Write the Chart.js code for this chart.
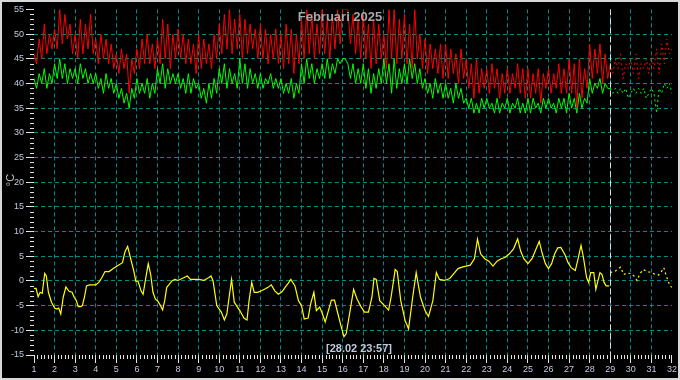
<!DOCTYPE html>
<html><head><meta charset="utf-8">
<script src="https://cdn.jsdelivr.net/npm/chart.js@4.4.1/dist/chart.umd.min.js"></script>
<style>
html,body{margin:0;padding:0;background:#000;}
#wrap{width:680px;height:380px;box-sizing:border-box;border:2px solid #d8d8d8;background:#000;}
canvas{display:block;}
</style></head><body>
<div id="wrap"><canvas id="c" width="676" height="376"></canvas></div>
<script>
const chartTitle = 'Februari 2025';
const stampLabel = '[28.02 23:57]';
const unitLabel = '°C';
const dayLabels = ['1','2','3','4','5','6','7','8','9','10','11','12','13','14','15','16','17','18','19','20','21','22','23','24','25','26','27','28','29','30','31','32'];
const yTickLabels = ['-15','-10','-5','0','5','10','15','20','25','30','35','40','45','50','55'];

// red / green: 8 readings per day (every 3 h) from day 1 to day 29
const redStart = 1, redStep = 0.125;
const redTemps = [
 46,44,49,45,52,46,50,47,
 51,47,55,48,54,49,52,46,
 50,45,53,46,52,47,54,46,
 49,44,50,45,49,44,48,43,
 46,42,47,43,46,38,45,42,
 47,43,49,44,50,44,48,43,
 49,44,53,45,52,43,50,45,
 51,45,50,44,49,44,48,42,
 50,43,49,44,48,43,50,45,
 52,46,54,47,55,46,53,47,
 54,45,53,46,52,47,51,45,
 52,45,51,44,50,45,51,44,
 50,43,52,44,51,42,50,44,
 53,45,55,46,54,45,52,46,
 55,46,53,45,54,47,55,48,
 55,55,55,48,54,46,53,45,
 54,45,52,43,53,44,52,45,
 50,43,55,45,55,44,53,45,
 54,44,52,43,55,45,50,43,
 49,42,48,43,47,42,48,41,
 48,41,47,42,46,40,47,41,
 45,39,44,37,45,38,43,39,
 43,38,44,39,43,37,42,38,
 43,38,42,39,44,38,43,37,
 43,37,42,38,43,36,42,39,
 43,38,42,39,44,38,43,38,
 45,38,44,35,45,37,43,39,
 48,41,47,42,48,40,46,41,
 44];
const greenTemps = [
 41,39,42,40,43,39,42,40,
 44,41,45,41,44,40,43,41,
 43,40,44,41,43,40,42,40,
 42,39,41,38,42,39,41,38,
 40,37,39,36,38,35,39,37,
 41,38,40,38,41,37,40,38,
 43,40,44,39,43,40,42,40,
 42,39,41,38,42,38,41,39,
 40,37,39,36,40,37,41,38,
 43,40,44,39,43,40,42,39,
 45,40,44,39,43,40,42,39,
 42,39,41,40,42,39,41,39,
 41,38,40,38,41,37,40,38,
 44,40,45,41,44,40,43,41,
 44,41,45,41,44,42,45,44,
 45,45,44,41,44,40,43,40,
 44,39,43,38,42,39,43,40,
 45,40,44,38,45,39,43,40,
 44,40,45,41,44,40,43,39,
 41,38,40,37,41,38,40,37,
 40,37,39,36,40,37,39,36,
 37,35,37,34,36,34,37,35,
 37,35,36,34,37,34,36,35,
 37,34,36,35,37,34,36,34,
 37,34,37,35,36,34,37,35,
 37,35,36,34,37,35,37,34,
 38,35,37,34,38,35,37,36,
 41,38,40,39,41,38,40,39,
 39];
// dotted part, day 29 to 32
const dotStart = 29, dotStep = 0.125;
const redDotTemps = [44,42,45,43,46,41,44,43, 45,42,46,41,44,43,45,42, 46,43,47,42,48,44,49,46,47];
const greenDotTemps = [39,38,39,38,39,38,39,37, 38,39,38,39,38,39,37,38, 39,38,34,39,38,40,39,40,38];

// yellow: day, value
const yellowDays = [1.0,1.1,1.2,1.3,1.4,1.52,1.6,1.7,1.85,2.0,2.1,2.2,2.3,2.42,2.55,2.7,2.85,2.95,3.05,3.15,3.27,3.35,3.45,3.55,3.7,4.0,4.15,4.3,4.45,4.65,4.85,5.1,5.3,5.42,5.55,5.68,5.85,5.95,6.05,6.2,6.3,6.42,6.55,6.67,6.78,6.9,7.0,7.12,7.25,7.35,7.45,7.55,7.7,7.85,8.0,8.3,8.45,8.6,8.9,9.0,9.25,9.5,9.6,9.7,9.88,10.1,10.25,10.37,10.48,10.6,10.73,11.0,11.2,11.35,11.45,11.58,11.7,11.87,12.05,12.2,12.37,12.53,12.7,12.87,13.05,13.2,13.35,13.48,13.68,13.85,14.0,14.13,14.32,14.45,14.6,14.72,14.88,15.0,15.15,15.32,15.45,15.6,15.77,15.93,16.06,16.17,16.28,16.4,16.53,16.7,16.9,17.06,17.25,17.42,17.52,17.63,17.8,18.03,18.23,18.35,18.55,18.65,18.82,19.03,19.2,19.4,19.57,19.78,20.0,20.17,20.38,20.55,20.7,20.95,21.2,21.4,21.6,21.8,22.0,22.2,22.4,22.55,22.7,22.9,23.1,23.3,23.5,23.7,23.9,24.1,24.3,24.5,24.65,24.8,25.0,25.2,25.4,25.55,25.7,25.85,26.0,26.15,26.3,26.45,26.6,26.8,26.95,27.1,27.3,27.45,27.58,27.7,27.85,27.95,28.05,28.2,28.3,28.4,28.5,28.6,28.7,28.8,28.95];
const yellowTemps = [-1.5,-1.5,-3.2,-2.3,-2.5,1.5,1.0,-2.3,-4.3,-5.5,-5.7,-5.5,-6.7,-3.3,-1.2,-2.1,-2.3,-3.3,-3.9,-5.2,-5.2,-5.0,-3.3,-1.0,-0.8,-0.8,-0.3,0.7,1.9,1.9,2.5,3.2,3.7,5.9,7.0,4.8,2.0,-0.1,0,-2.0,-2.7,0.3,3.5,1.3,-2.3,-3.7,-4.0,-4.8,-5.9,-4.0,-1.3,-0.8,0,0.3,0.1,0.7,1.0,0.3,0.3,0.3,0.1,0.7,1.0,0,-5.0,-6.3,-7.9,-6.7,-3.3,0.3,-4.3,-6.0,-7.5,-7.9,-4.0,-0.3,-2.3,-2.3,-2.0,-1.7,-1.3,-0.8,-2.0,-2.7,-2.2,-1.3,-0.5,0.3,-1.0,-4.0,-5.0,-7.7,-7.5,-4.5,-2.3,-6.0,-5.3,-6.5,-8.3,-5.8,-3.9,-3.9,-6.7,-9.3,-11.3,-10.7,-8.0,-5.0,-1.7,-3.7,-5.3,-6.3,-6.3,-3.3,0.5,0.3,-4.0,-5.0,-5.9,-3.3,2.3,1.9,-4.0,-8.0,-9.7,-3.3,1.7,-3.3,-6.0,-7.2,-4.0,1.7,0.3,0.1,0.5,1.5,2.5,2.8,3.0,3.2,4.5,8.5,5.5,4.5,4.0,3.0,4.0,4.5,4.8,5.5,6.5,8.5,6.0,4.5,3.5,4.5,6.5,8.0,5.5,3.5,2.5,3.5,5.5,6.7,6.8,5.3,3.7,2.7,2.1,4.7,7.2,4.7,0.7,-0.3,1.7,1.7,-1.7,0,1.7,1.3,-0.3,-1.0,-1.0];
const yellowDotDays = [29.0,29.25,29.5,29.65,29.8,30.0,30.15,30.3,30.45,30.6,30.8,31.0,31.2,31.35,31.5,31.6,31.75,31.9,32.0];
const yellowDotTemps = [1.7,2.0,2.8,1.3,1.6,1.5,1.0,0.1,1.5,2.3,1.9,1.7,1.3,1.2,2.0,2.7,0.7,-1.0,-1.3];

const cursorDay = 29;

const seq = (start, step, arr) => arr.map((v, i) => ({x: start + i * step, y: v}));
const pairs = (xs, ys) => xs.map((x, i) => ({x: x, y: ys[i]}));

const labelColor = '#c0cadc';
const gridColor = '#008b8b';
const tickColor = '#e4e4e4';
const fontFam = 'Liberation Sans, Arial, sans-serif';

const overlay = {
  id: 'overlay',
  beforeDatasetsDraw(chart) {
    const {ctx, chartArea: a, scales: {x, y}} = chart;
    ctx.save();
    ctx.strokeStyle = tickColor;
    ctx.lineWidth = 1;
    ctx.beginPath();
    for (let v = -15; v <= 55; v++) {
      if (v % 5 === 0) continue;
      const py = Math.round(y.getPixelForValue(v)) + 0.5;
      ctx.moveTo(a.left - 4, py); ctx.lineTo(a.left, py);
    }
    for (let d = 1; d < 32; d++) {
      for (let k = 1; k < 6; k++) {
        const px = Math.round(x.getPixelForValue(d + k / 6)) + 0.5;
        ctx.moveTo(px, a.bottom); ctx.lineTo(px, a.bottom + 4);
      }
    }
    ctx.stroke();
    ctx.restore();
  },
  afterDatasetsDraw(chart) {
    const {ctx, chartArea: a, scales: {x}} = chart;
    ctx.save();
    const cx = Math.round(x.getPixelForValue(cursorDay)) + 0.5;
    ctx.strokeStyle = '#c8e8e8';
    ctx.setLineDash([6, 3]);
    ctx.beginPath(); ctx.moveTo(cx, a.top); ctx.lineTo(cx, a.bottom); ctx.stroke();
    ctx.setLineDash([]);
    ctx.fillStyle = '#a8a8a8';
    ctx.font = 'bold 13px ' + fontFam;
    ctx.textAlign = 'center'; ctx.textBaseline = 'middle';
    ctx.fillText(chartTitle, 338, 15);
    ctx.fillStyle = labelColor;
    ctx.font = 'bold 11px ' + fontFam;
    ctx.fillText(stampLabel, 357, 347);
    ctx.translate(9, 178);
    ctx.rotate(-Math.PI / 2);
    ctx.font = '11px ' + fontFam;
    ctx.fillStyle = '#c8c8c8';
    ctx.fillText(unitLabel, 0, 0);
    ctx.restore();
  }
};

const edgeless = (ctx) => (ctx.index === 0 || ctx.index === ctx.scale.ticks.length - 1) ? 'rgba(0,0,0,0)' : gridColor;

new Chart(document.getElementById('c'), {
  type: 'line',
  data: {
    datasets: [
      {data: seq(redStart, redStep, redTemps), borderColor: '#ff0000', borderWidth: 1},
      {data: seq(redStart, redStep, greenTemps), borderColor: '#00ff00', borderWidth: 1},
      {data: seq(dotStart, dotStep, redDotTemps), borderColor: '#ff0000', borderWidth: 1, borderDash: [2, 3]},
      {data: seq(dotStart, dotStep, greenDotTemps), borderColor: '#00ff00', borderWidth: 1, borderDash: [2, 3]},
      {data: pairs(yellowDays, yellowTemps), borderColor: '#ffff00', borderWidth: 1.2},
      {data: pairs(yellowDotDays, yellowDotTemps), borderColor: '#ffff00', borderWidth: 1.2, borderDash: [2, 3]}
    ]
  },
  options: {
    responsive: false,
    animation: false,
    events: [],
    layout: {padding: {top: 3, right: 5, left: 0, bottom: 0}},
    elements: {point: {radius: 0}, line: {tension: 0}},
    plugins: {legend: {display: false}, tooltip: {enabled: false}, title: {display: false}},
    scales: {
      x: {
        type: 'linear', min: 1, max: 32,
        afterFit: s => { s.height = 23; },
        ticks: {stepSize: 1, autoSkip: false, maxRotation: 0, padding: 1, color: labelColor,
          font: {family: fontFam, size: 9}, callback: (v, i) => dayLabels[i]},
        grid: {color: edgeless, tickColor: tickColor, tickLength: 8, lineWidth: 1},
        border: {display: false, dash: [4, 3]}
      },
      y: {
        min: -15, max: 55,
        afterFit: s => { s.width = 32; },
        ticks: {stepSize: 5, padding: 2, color: labelColor, font: {family: fontFam, size: 9},
          callback: (v, i) => yTickLabels[i]},
        grid: {color: edgeless, tickColor: tickColor, tickLength: 8, lineWidth: 1},
        border: {display: false, dash: [4, 3]}
      }
    }
  },
  plugins: [overlay]
});
</script>
</body></html>
